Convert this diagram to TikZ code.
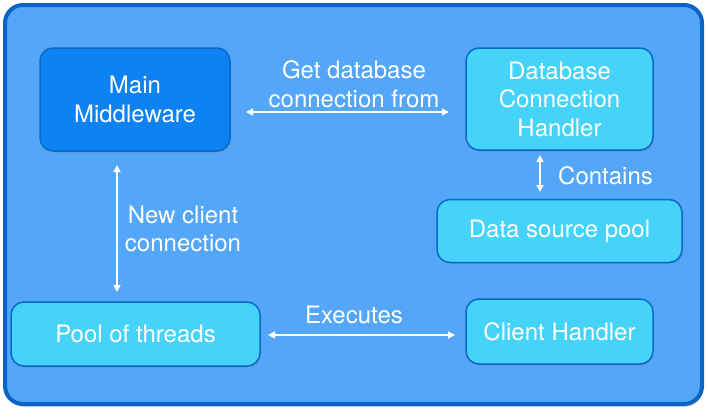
\documentclass[tikz,border=0pt]{standalone}
\usepackage{fontspec}
\setmainfont{TeX Gyre Heros}
\usetikzlibrary{arrows.meta,shadows}
\definecolor{outerfill}{HTML}{53A6F8}
\definecolor{outerline}{HTML}{0B63C3}
\definecolor{mainfill}{HTML}{0E82F2}
\definecolor{lightfill}{HTML}{45D3FA}
\definecolor{boxline}{HTML}{0B68C6}
\tikzset{
  box/.style={draw=boxline, line width=1.5pt, rounded corners=13pt, fill=lightfill,
    text=white, align=center, inner sep=0pt, font=\fontsize{24}{28.5}\selectfont,
    drop shadow={shadow xshift=1pt, shadow yshift=-2pt, opacity=0.25}},
  mainbox/.style={box, fill=mainfill},
  lbl/.style={text=white, align=center, font=\fontsize{24}{28.5}\selectfont, inner sep=0pt},
  conn/.style={draw=white, line width=1.4pt, {Triangle[width=7pt,length=7pt]}-{Triangle[width=7pt,length=7pt]}}
}
\begin{document}
\begin{tikzpicture}[x=1pt,y=-1pt]
\useasboundingbox (0,0) rectangle (708,416);
\draw[draw=outerline, line width=4pt, fill=outerfill, rounded corners=18pt,
  drop shadow={shadow xshift=1pt, shadow yshift=-3pt, opacity=0.3}] (5,5) rectangle (702,404);
\node[mainbox, minimum width=190pt, minimum height=103pt] (mm) at (135,99.5) {Main\\Middleware};
\node[box, minimum width=187pt, minimum height=102pt] (dch) at (559.5,99) {Database\\Connection\\Handler};
\node[box, minimum width=245pt, minimum height=63pt] (dsp) at (559.5,231) {Data source pool};
\node[box, minimum width=249pt, minimum height=64pt] (pot) at (135.5,334) {Pool of threads};
\node[box, minimum width=187pt, minimum height=65pt] (ch) at (559.5,331.5) {Client Handler};
\coordinate (a1) at (246,112); \coordinate (a2) at (449,112);
\draw[conn] (a1) -- (a2);
\coordinate (b1) at (117,165); \coordinate (b2) at (117,292);
\draw[conn] (b1) -- (b2);
\coordinate (c1) at (540,155); \coordinate (c2) at (540,192);
\draw[conn] (c1) -- (c2);
\coordinate (d1) at (268,335); \coordinate (d2) at (455,335);
\draw[conn] (d1) -- (d2);
\node[lbl] (l1) at (354,84) {Get database\\connection from};
\node[lbl] (l2) at (183,229) {New client\\connection};
\node[lbl, anchor=west] (l3) at (558,176) {Contains};
\node[lbl] (l4) at (354,315) {Executes};
\end{tikzpicture}
\end{document}
